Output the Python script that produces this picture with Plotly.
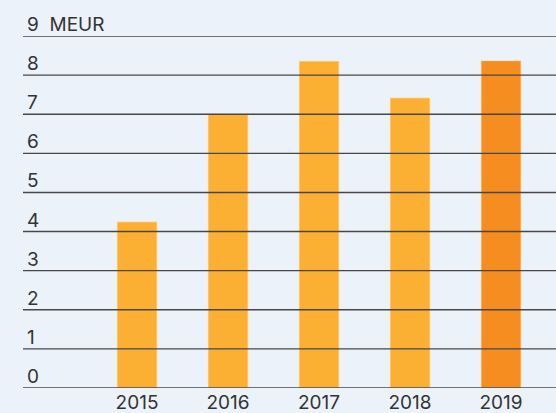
import plotly.graph_objects as go

years = ["2015", "2016", "2017", "2018", "2019"]
values = [4.25, 7.0, 8.36, 7.42, 8.37]
bar_colors = ["#FBB034", "#FBB034", "#FBB034", "#FBB034", "#F68D21"]
y_ticks = [0, 1, 2, 3, 4, 5, 6, 7, 8, 9]
y_tick_labels = ["0", "1", "2", "3", "4", "5", "6", "7", "8", "9  MEUR"]

FONT = "Inter, Liberation Sans, Arial, sans-serif"

fig = go.Figure()
fig.add_trace(go.Bar(
    x=years, y=values,
    marker=dict(color=bar_colors, line=dict(color="rgba(255,230,190,0.8)", width=1)),
    width=0.44,
    hoverinfo="x+y",
))

shapes = []
for t in y_ticks:
    shapes.append(dict(type="line", xref="paper", yref="y", x0=0, x1=1, y0=t, y1=t,
                       line=dict(color="#474747", width=1.4), layer="above"))

annotations = []
for t, lab in zip(y_ticks, y_tick_labels):
    annotations.append(dict(x=0, y=t, xref="paper", yref="y", text=lab, showarrow=False,
                            xanchor="left", yanchor="bottom", xshift=2, yshift=-2,
                            font=dict(family=FONT, size=19, color="#333333")))

fig.update_layout(
    width=556, height=413,
    margin=dict(l=23, r=0, t=36, b=25),
    paper_bgcolor="#ECF2FA",
    plot_bgcolor="#ECF2FA",
    showlegend=False,
    shapes=shapes,
    annotations=annotations,
    bargap=0.56,
)
fig.update_xaxes(type="category", range=[-1.253, 4.604], showgrid=False, zeroline=False,
                 showline=False, ticks="", ticklabelstandoff=1,
                 tickfont=dict(family=FONT, size=19, color="#333333"))
fig.update_yaxes(range=[0, 9], showgrid=False, zeroline=False, showticklabels=False, showline=False)

fig.write_html("out.html")
